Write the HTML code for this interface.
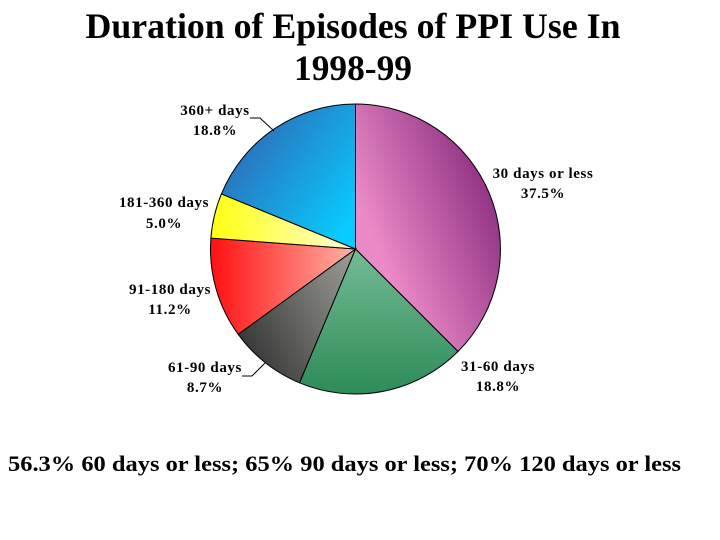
<!DOCTYPE html>
<html><head><meta charset="utf-8"><style>html,body{margin:0;padding:0;background:#fff}svg{display:block}</style></head>
<body>
<svg width="720" height="540" viewBox="0 0 720 540" xmlns="http://www.w3.org/2000/svg" font-family="Liberation Serif, serif" font-weight="bold">
<defs>
<linearGradient id="g1" x1="0" y1="1" x2="1" y2="0.3"><stop offset="0.3" stop-color="#ea8ac6"/><stop offset="1" stop-color="#882a7e"/></linearGradient>
<linearGradient id="g2" x1="0" y1="0" x2="0" y2="1"><stop offset="0" stop-color="#75bb95"/><stop offset="1" stop-color="#2c8c58"/></linearGradient>
<linearGradient id="g3" x1="1" y1="0" x2="0" y2="0.6"><stop offset="0" stop-color="#a0a09a"/><stop offset="1" stop-color="#3a3a3a"/></linearGradient>
<linearGradient id="g4" x1="0" y1="0" x2="1" y2="0"><stop offset="0" stop-color="#ff1010"/><stop offset="1" stop-color="#ffb4a8"/></linearGradient>
<linearGradient id="g5" x1="0" y1="0" x2="1" y2="0"><stop offset="0" stop-color="#ffff10"/><stop offset="1" stop-color="#ffffd8"/></linearGradient>
<linearGradient id="g6" x1="0" y1="0" x2="1" y2="0.8"><stop offset="0" stop-color="#3558a8"/><stop offset="1" stop-color="#08ccff"/></linearGradient>
</defs>
<g stroke="#000" stroke-width="1">
<path d="M355.5,249 L355.5,104 A145,145 0 0 1 458,351.5 Z" fill="url(#g1)"/>
<path d="M355.5,249 L458,351.5 A145,145 0 0 1 299.5,382.8 Z" fill="url(#g2)"/>
<path d="M355.5,249 L299.5,382.8 A145,145 0 0 1 238.2,334.3 Z" fill="url(#g3)"/>
<path d="M355.5,249 L238.2,334.3 A145,145 0 0 1 210.9,238.1 Z" fill="url(#g4)"/>
<path d="M355.5,249 L210.9,238.1 A145,145 0 0 1 221.4,193.9 Z" fill="url(#g5)"/>
<path d="M355.5,249 L221.4,193.9 A145,145 0 0 1 355.5,104 Z" fill="url(#g6)"/>
<polyline points="250,118 260,118 274,131" fill="none"/>
<polyline points="242,376 252,376 265,363" fill="none"/>
</g>
<text x="353" y="38" font-size="36" text-anchor="middle" textLength="535" lengthAdjust="spacingAndGlyphs">Duration of Episodes of PPI Use In</text>
<text x="353" y="80" font-size="36" text-anchor="middle" textLength="118" lengthAdjust="spacingAndGlyphs">1998-99</text>
<g font-size="15" text-anchor="middle" letter-spacing="0.6">
<text x="215" y="115">360+ days</text><text x="215" y="135">18.8%</text>
<text x="543" y="178">30 days or less</text><text x="543" y="198">37.5%</text>
<text x="164" y="207">181-360 days</text><text x="164" y="228">5.0%</text>
<text x="170" y="294">91-180 days</text><text x="170" y="314">11.2%</text>
<text x="205" y="372">61-90 days</text><text x="205" y="392">8.7%</text>
<text x="498" y="371">31-60 days</text><text x="498" y="391">18.8%</text>
</g>
<text x="8" y="471" font-size="22" textLength="673" lengthAdjust="spacingAndGlyphs">56.3% 60 days or less;  65% 90 days or less;  70% 120 days or less</text>
</svg>
</body></html>
